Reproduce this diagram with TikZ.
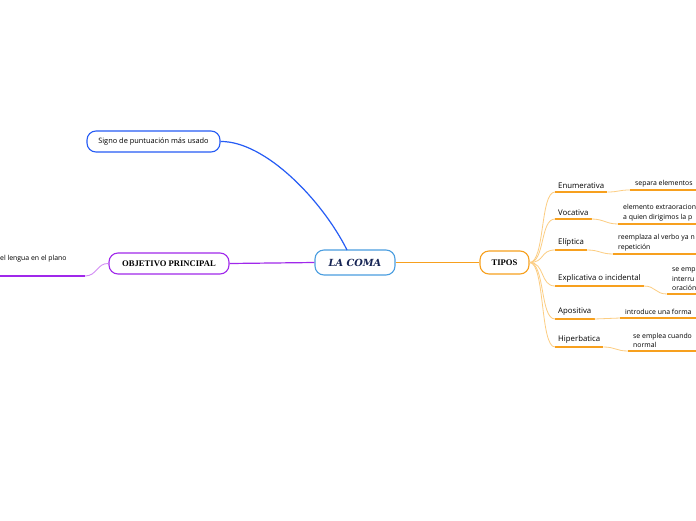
\documentclass[tikz,border=0pt]{standalone}
\usepackage{fontspec}
\setmainfont{Open Sans}
\newfontfamily\titrefont{Liberation Serif}
\newfontfamily\comafont{DejaVu Serif}
\usetikzlibrary{calc}
\definecolor{bleu}{RGB}{38,92,245}
\definecolor{ciel}{RGB}{74,158,224}
\definecolor{marine}{RGB}{22,36,84}
\definecolor{violet}{RGB}{160,40,235}
\definecolor{lilas}{RGB}{210,140,245}
\definecolor{orange}{RGB}{247,160,30}
\definecolor{peche}{RGB}{252,205,130}
\tikzset{
	bulle/.style={draw,line width=1.1pt,rounded corners=9pt,fill=white,inner sep=0pt,font=\fontsize{7.4}{8}\selectfont},
	titre/.style={font=\titrefont\bfseries\fontsize{8.6}{9}\selectfont},
	sorte/.style={anchor=south west,inner xsep=3pt,inner ysep=3.5pt,font=\fontsize{7.8}{8}\selectfont},
	detail/.style={anchor=south west,inner sep=0pt,align=left,font=\fontsize{6.9}{9.6}\selectfont},
	trait/.style={orange,line width=1.3pt},
	lien/.style={peche,line width=0.8pt}
}

\begin{document}
\begin{tikzpicture}[x=1pt,y=-1pt]
	\clip (0,0) rectangle (696,520);
	\fill[white] (0,0) rectangle (696,520);
	
	% --- noeuds principaux
	\node[bulle,draw=ciel,minimum width=80pt,minimum height=25pt,font=\comafont\bfseries\itshape\fontsize{9.8}{10}\selectfont,text=marine] (coma) at (355,262.5) {LA COMA};
	\node[bulle,draw=bleu,minimum width=133pt,minimum height=21pt] (signo) at (153.5,141.5) {Signo de puntuación más usado};
	\node[bulle,draw=violet,titre,minimum width=120pt,minimum height=21pt] (objetivo) at (169,263.5) {OBJETIVO PRINCIPAL};
	\node[bulle,draw=orange,titre,minimum width=49pt,minimum height=23pt] (tipos) at (504.5,262.5) {TIPOS};
	
	% --- liens du centre
	\draw[bleu,line width=1.2pt] (signo.east) .. controls (265,141) and (322,200) .. (347,250);
	\draw[violet,line width=1.2pt] (coma.west) -- (objetivo.east);
	\draw[orange,line width=1.2pt] (coma.east) -- (tipos.west);
	
	% --- objectif (coupé à gauche)
	\coordinate (pied) at (85,276);
	\draw[lilas,line width=0.9pt] (objetivo.west) .. controls (97,263) and (97,276) .. (pied);
	\draw[violet,line width=1.7pt] (pied) -- (0,276);
	\node[anchor=west,inner sep=0pt,font=\fontsize{6.9}{8}\selectfont] (plano) at (0,259) {el lengua en el plano};
	
	% --- types de virgule
	\foreach \n/\sorte/\y/\dx/\dy/\txt in {%
		1/Enumerativa/192/630/190/{separa elementos},
		2/Vocativa/219/618/224/{elemento extraoracion\\a quien dirigimos la p},
		3/Elíptica/250/613/254/{reemplaza al verbo ya n\\repetición},
		4/Explicativa o incidental/286/667/294/{se emp\\interru\\oración},
		5/Apositiva/319/620/318/{introduce una forma},
		6/Hiperbatica/347/628/351/{se emplea cuando\\normal}}{
		\node[sorte] (t\n) at (555,\y) {\sorte};
		\draw[trait] (t\n.south west) -- (t\n.south east);
		\draw[lien] (tipos.east) .. controls (545,262.5) and (540,\y) .. (t\n.south west);
		\coordinate (d\n) at (\dx,\dy);
		\draw[lien] (t\n.south east) .. controls +(12,0) and +(-12,0) .. (d\n);
		\draw[trait] (d\n) -- (700,\dy);
		\node[detail] (x\n) at ($(d\n)+(5,-3)$) {\txt};
	}
	
\end{tikzpicture}
\end{document}
